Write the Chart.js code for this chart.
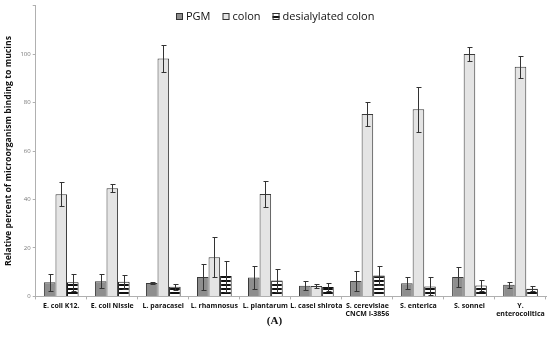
<!DOCTYPE html>
<html>
<head>
<meta charset="utf-8">
<script src="https://cdn.jsdelivr.net/npm/chart.js@4.4.0/dist/chart.umd.min.js"></script>
<style>
  html, body { margin: 0; padding: 0; background: #fff; }
  #wrap { width: 550px; height: 338px; }
</style>
</head>
<body>
<div id="wrap"><canvas id="bindingChart" width="550" height="338"></canvas></div>
<script>
// categories (microorganisms)
let strains = ['E. coli K12.', 'E. coli Nissle', 'L. paracasei', 'L. rhamnosus', 'L. plantarum',
    'L. casei shirota', ['S. cerevisiae', 'CNCM I-3856'], 'S. enterica', 'S. sonnei', ['Y.', 'enterocolitica']];

// mean values
let pgmData = [5.8, 6.3, 5.5, 8.0, 7.8, 4.4, 6.4, 5.4, 8.0, 4.8];
let colonData = [42.2, 44.6, 98.2, 16.2, 42.3, 4.3, 75.3, 77.2, 100.0, 94.8];
let desialData = [5.8, 6.0, 4.0, 8.4, 6.6, 3.9, 8.6, 4.1, 4.5, 3.2];

// error bars (+/-)
let pgmErr = [3.6, 2.8, 0.4, 5.3, 4.6, 1.9, 4.0, 2.5, 4.0, 1.3];
let colonErr = [5.0, 1.7, 5.5, 8.4, 5.4, 1.0, 5.0, 9.4, 3.0, 4.6];
let desialErr = [3.5, 3.0, 1.2, 6.4, 4.6, 1.5, 4.0, 3.7, 2.2, 1.0];

let yTicks = [0, 20, 40, 60, 80, 100];

function stripePattern()
{
    let c = document.createElement('canvas');
    c.width = 4;
    c.height = 4;
    let g = c.getContext('2d');
    g.fillStyle = '#ffffff';
    g.fillRect(0, 0, 4, 4);
    g.fillStyle = '#111111';
    g.fillRect(0, 0, 4, 2);
    return g.createPattern(c, 'repeat');
}

// draws the +/- error whiskers on top of every bar
const errorBars = {
    id: 'errorBars',
    afterDatasetsDraw(chart) {
        let ctx = chart.ctx;
        let y = chart.scales.y;
        ctx.save();
        ctx.strokeStyle = '#333333';
        ctx.lineWidth = 1;
        chart.data.datasets.forEach(function(ds, i) {
            let meta = chart.getDatasetMeta(i);
            meta.data.forEach(function(bar, j) {
                let v = ds.data[j];
                let e = ds.errors[j];
                let top = Math.round(y.getPixelForValue(v + e)) + 0.5;
                let bot = Math.round(y.getPixelForValue(v - e)) + 0.5;
                let x = Math.round(bar.x) + 0.5;
                ctx.beginPath();
                ctx.moveTo(x, top); ctx.lineTo(x, bot);
                ctx.moveTo(x - 2, top); ctx.lineTo(x + 3, top);
                ctx.moveTo(x - 2, bot); ctx.lineTo(x + 3, bot);
                ctx.stroke();
            });
        });
        ctx.restore();
    }
};

// legend drawn over the top of the plot area, like the original
const topLegend = {
    id: 'topLegend',
    afterDraw(chart) {
        let ctx = chart.ctx;
        let sets = chart.data.datasets;
        let box = 7, gap = 3, space = 12;
        ctx.save();
        ctx.font = '11px "Open Sans"';
        ctx.textBaseline = 'middle';
        let widths = sets.map(function(ds) { return ctx.measureText(ds.label).width; });
        let total = widths.reduce(function(a, w) { return a + box + gap + w; }, 0) + space * (sets.length - 1);
        let x = Math.round(chart.width / 2 - total / 2);
        let yc = 17;
        sets.forEach(function(ds, i) {
            ctx.fillStyle = ds.backgroundColor;
            ctx.fillRect(x, yc - 4, box, box);
            ctx.strokeStyle = '#333';
            ctx.lineWidth = 1;
            ctx.strokeRect(x + 0.5, yc - 3.5, box - 1, box - 1);
            ctx.fillStyle = '#111';
            ctx.fillText(ds.label, x + box + gap, yc);
            x += box + gap + widths[i] + space;
        });
        ctx.restore();
    }
};

let ctx1 = document.getElementById('bindingChart').getContext('2d');
let myChart = new Chart(ctx1, {
    type: 'bar',
    data: {
        labels: strains,
        datasets: [{
            label: 'PGM',
            data: pgmData,
            errors: pgmErr,
            backgroundColor: '#8e8e8e',
            borderColor: '#3a3a3a',
            borderWidth: 1
        },
        {
            label: 'colon',
            data: colonData,
            errors: colonErr,
            backgroundColor: '#e4e4e4',
            borderColor: '#3a3a3a',
            borderWidth: 1
        },
        {
            label: 'desialylated colon',
            data: desialData,
            errors: desialErr,
            backgroundColor: stripePattern(),
            borderColor: '#111111',
            borderWidth: 1
        }]
    },
    options: {
        responsive: false,
        animation: false,
        layout: { padding: { left: 3, right: 4, top: 4, bottom: 0 } },
        datasets: {
            bar: { categoryPercentage: 0.68, barPercentage: 1 }
        },
        plugins: {
            legend: { display: false },
            title: {
                display: true,
                position: 'bottom',
                text: '(A)',
                color: '#111',
                padding: { top: -6, bottom: 10 },
                font: { family: 'Liberation Serif', size: 11, weight: 'bold' }
            },
            tooltip: { enabled: false }
        },
        scales: {
            y: {
                min: 0,
                max: 120,
                afterBuildTicks: function(axis) {
                    axis.ticks = yTicks.concat([120]).map(function(v) { return { value: v }; });
                },
                border: { color: '#b0b0b0' },
                grid: { drawOnChartArea: false, tickLength: 3, color: '#b0b0b0' },
                ticks: {
                    color: '#777',
                    padding: 2,
                    font: { family: 'Open Sans', size: 6 },
                    callback: function(v) { return v > 100 ? '' : v; }
                },
                title: {
                    display: true,
                    text: 'Relative percent of microorganism binding to mucins',
                    color: '#111',
                    padding: { top: 0, bottom: 5 },
                    font: { family: 'Open Sans', size: 8.7, weight: 'bold' }
                }
            },
            x: {
                border: { color: '#b0b0b0' },
                grid: { drawOnChartArea: false, tickLength: 3, color: '#b0b0b0' },
                ticks: {
                    color: '#111',
                    maxRotation: 0,
                    autoSkip: false,
                    padding: 3,
                    font: { family: 'Open Sans', size: 7, weight: 'bold', lineHeight: 1.1 }
                }
            }
        }
    },
    plugins: [errorBars, topLegend]
});
</script>
</body>
</html>
